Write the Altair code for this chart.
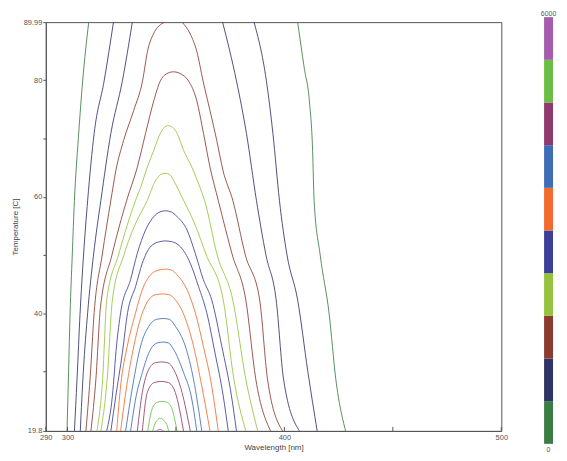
import altair as alt
import pandas as pd

FONT = "Liberation Sans"

# colour bar bands (intensity) and their colours, bottom to top
BAND_LO = [0, 600, 1200, 1800, 2400, 3000, 3600, 4200, 4800, 5400]
BAND_HI = [600, 1200, 1800, 2400, 3000, 3600, 4200, 4800, 5400, 6000]
BAND_COLORS = ["#3a7d44", "#2e3466", "#8b3a2f", "#95c23d", "#3b3f99",
               "#f26b2e", "#3e6db5", "#8e3a6c", "#6cbd45", "#a65cae"]
CBAR_LABELS = [0, 6000]

X_TICKS = [290, 300, 350, 400, 450, 500]
Y_TICKS = [19.8, 30, 40, 50, 60, 70, 80, 89.99]

# contour lines: (wavelength nm, temperature C)
c300_l = [(299.8, 19.8), (300.5, 30), (301.2, 40), (302.2, 50), (303.2, 59.4), (305.0, 70), (307.0, 79.9), (309.8, 89.99)]
c300_r = [(406.1, 89.99), (409.2, 82), (411.5, 76.5), (413.0, 68), (413.7, 59.4), (416.5, 50), (420.6, 40), (423.7, 28.7), (428.2, 19.8)]
c600_l = [(303.2, 19.8), (304.4, 28.7), (305.8, 40), (307.4, 50), (309.3, 59.4), (312.3, 70.9), (316.9, 79.9), (321.2, 89.99)]
c600_r = [(386.0, 89.99), (391.7, 79.9), (394.7, 70.9), (397.7, 59.4), (401.2, 50), (406.1, 42.3), (410.8, 30), (415.1, 19.8)]
c900_l = [(305.9, 19.8), (307.3, 30), (309.3, 40.1), (312.0, 50), (315.4, 59.4), (320.0, 70.9), (325.3, 79.9), (329.9, 89.99)]
c900_r = [(371.5, 89.99), (377.9, 79.9), (382.5, 70.9), (387.1, 59.4), (391.5, 50), (396.2, 42.3), (399.6, 28.7), (406.9, 19.8)]
c1200_l = [(308.5, 19.8), (310.4, 28.7), (312.3, 40.1), (316.0, 50), (320.0, 59.4), (322.3, 64.5), (325.9, 69.7),
           (330.5, 74.8), (334.6, 79.9), (336.9, 85.0), (339.6, 87.95), (344.8, 89.99)]
c1200_r = [(352.8, 89.99), (356.6, 87.95), (359.6, 85.0), (362.5, 79.9), (365.7, 74.8), (368.8, 69.7), (371.7, 64.5),
           (376.2, 59.4), (382.0, 50), (388.6, 42.3), (392.2, 28.7), (399.1, 19.8)]
c1500 = [(310.8, 19.8), (313.1, 28.7), (315.2, 41.0), (320.5, 50), (327.3, 59.4), (332.2, 65.1), (336.0, 70.9),
         (339.8, 76.5), (342.8, 79.9), (345.6, 81.1), (348.8, 81.46), (352.3, 81.1), (355.8, 79.9), (359.6, 76.5),
         (362.7, 70.9), (365.7, 65.1), (369.5, 59.4), (376.0, 50), (382.2, 42.3), (386.8, 28.7), (393.6, 19.8)]
c1800 = [(313.6, 19.8), (316.2, 28.7), (318.1, 42.3), (323.5, 50), (331.4, 59.4), (333.7, 61.6), (336.8, 65.1),
         (339.8, 68.0), (342.8, 70.9), (344.6, 71.9), (346.5, 72.23), (348.5, 71.9), (350.5, 70.9), (353.5, 68.0),
         (357.3, 65.1), (361.1, 61.6), (363.2, 59.4), (369.0, 50), (376.2, 42.3), (382.2, 28.7), (387.7, 19.8)]
c2100 = [(315.4, 19.8), (318.3, 28.7), (320.7, 42.3), (326.0, 50), (331.5, 55.5), (336.8, 59.4), (340.6, 62.8),
         (342.9, 63.8), (345.1, 64.04), (347.2, 63.8), (348.9, 62.8), (353.5, 59.4), (358.5, 55.5), (364.0, 50),
         (371.8, 42.3), (376.7, 28.7), (382.2, 19.8)]
c2400 = [(318.1, 19.8), (320.7, 25.8), (322.6, 34.4), (324.5, 40.1), (329.1, 45.8), (332.2, 50.3), (336.0, 54.3),
         (339.8, 56.6), (342.6, 57.4), (345.1, 57.6), (347.8, 57.4), (350.5, 56.6), (355.1, 54.3), (358.9, 50.3),
         (362.6, 45.8), (366.5, 42.3), (371.1, 34.4), (375.6, 25.8), (377.9, 19.8)]
c2700 = [(320.0, 19.8), (322.3, 25.8), (325.3, 33.2), (327.7, 40.1), (331.4, 44.6), (334.5, 48.6), (338.3, 51.45),
         (342.6, 52.3), (345.1, 52.42), (347.9, 52.3), (352.0, 51.45), (356.6, 48.6), (360.4, 44.6), (364.2, 40.1),
         (368.0, 33.2), (371.8, 25.8), (374.1, 19.8)]
c3000 = [(322.7, 19.8), (324.5, 27.5), (327.6, 34.4), (331.4, 40.1), (334.5, 44.05), (338.3, 46.6), (342.3, 47.45),
         (345.1, 47.59), (347.8, 47.45), (350.5, 46.6), (355.1, 44.05), (358.9, 40.1), (362.6, 34.4), (366.5, 27.5),
         (369.5, 19.8)]
c3300 = [(324.5, 19.8), (327.3, 27.5), (330.6, 34.37), (333.7, 39.13), (337.5, 42.34), (340.8, 43.2), (343.7, 43.32),
         (346.7, 43.2), (349.7, 42.34), (354.3, 39.13), (358.1, 34.37), (361.9, 27.5), (365.7, 19.8)]
c3600 = [(326.8, 19.8), (330.6, 28.68), (333.7, 34.37), (337.5, 37.78), (341.0, 38.95), (344.2, 39.10), (347.0, 38.95),
         (349.7, 37.78), (354.3, 34.37), (358.1, 28.68), (361.9, 19.8)]
c3900 = [(329.1, 19.8), (331.4, 25.27), (334.5, 29.83), (338.3, 33.81), (341.3, 34.9), (344.2, 35.05), (346.6, 34.9),
         (348.9, 33.81), (353.5, 29.83), (357.3, 25.27), (359.6, 19.8)]
c4200 = [(332.2, 19.8), (334.5, 26.41), (337.5, 30.39), (340.5, 31.5), (343.3, 31.64), (346.2, 31.5), (348.9, 30.39),
         (352.8, 26.41), (356.6, 19.8)]
c4500 = [(334.5, 19.8), (336.8, 26.41), (340.0, 28.1), (343.3, 28.29), (346.5, 28.1), (349.7, 26.41), (353.5, 19.8)]
c4800 = [(337.0, 19.8), (339.0, 23.56), (341.3, 24.7), (343.7, 24.87), (346.0, 24.7), (348.2, 23.56), (350.5, 19.8)]
c5100 = [(339.3, 19.8), (340.2, 20.9), (341.3, 21.6), (342.8, 21.97), (344.4, 21.6), (345.8, 20.9), (346.6, 19.8)]
c5400 = [(341.0, 19.8), (342.6, 20.06), (344.2, 19.8)]

SEGMENTS = [
    (300, c300_l), (300, c300_r), (600, c600_l), (600, c600_r), (900, c900_l), (900, c900_r),
    (1200, c1200_l), (1200, c1200_r), (1500, c1500), (1800, c1800), (2100, c2100), (2400, c2400),
    (2700, c2700), (3000, c3000), (3300, c3300), (3600, c3600), (3900, c3900), (4200, c4200),
    (4500, c4500), (4800, c4800), (5100, c5100), (5400, c5400),
]

rows = []
for k, (lvl, pts) in enumerate(SEGMENTS):
    col = BAND_COLORS[min(lvl // 600, len(BAND_COLORS) - 1)]
    for i, (w, t) in enumerate(pts):
        rows.append({"seg": k, "level": lvl, "idx": i, "wl": w, "temp": t, "col": col})
df = pd.DataFrame(rows)

xscale = alt.Scale(domain=[290, 500], nice=False, zero=False)
yscale = alt.Scale(domain=[19.8, 89.99], nice=False, zero=False)

xaxis = alt.Axis(values=X_TICKS, title="Wavelength [nm]", ticks=False, labelPadding=3, labelFlush=False,
                 labelExpr="datum.value == 350 || datum.value == 450 ? '' : toString(datum.value)",
                 titlePadding=2, grid=False, labelFont=FONT, titleFont=FONT, labelFontSize=7.5,
                 titleFontSize=8, titleFontWeight="normal", labelColor="#555", titleColor="#444",
                 domainColor="#555")
yaxis = alt.Axis(values=Y_TICKS, title="Temperature [C]", tickSize=3, labelPadding=1, labelFlush=False,
                 labelExpr="indexof([30, 50, 70], datum.value) >= 0 ? '' : toString(datum.value)",
                 titlePadding=4, grid=False, labelFont=FONT, titleFont=FONT, labelFontSize=7.5,
                 titleFontSize=8, titleFontWeight="normal", labelColor="#555", titleColor="#444",
                 domainColor="#555", tickColor="#555")

contours = alt.Chart(df).mark_line(strokeWidth=1, interpolate="monotone", clip=True, opacity=0.85).encode(
    x=alt.X("wl:Q", scale=xscale, axis=xaxis),
    y=alt.Y("temp:Q", scale=yscale, axis=yaxis),
    color=alt.Color("col:N", scale=None),
    detail="seg:N",
    order="idx:Q",
)

xticks = alt.Chart(pd.DataFrame({"wl": X_TICKS})).mark_rule(color="#555", strokeWidth=1).encode(
    x=alt.X("wl:Q", scale=xscale, axis=xaxis),
    y=alt.value(411),
    y2=alt.value(407),
)

main = alt.layer(contours, xticks).properties(
    width=458, height=411,
    view=alt.ViewBackground(stroke="#555", strokeWidth=1),
)

cb_scale = alt.Scale(domain=[0, 5930], nice=False, zero=False)
cb_df = pd.DataFrame({"lo": BAND_LO, "hi": BAND_HI, "col": BAND_COLORS})
bar = alt.Chart(cb_df).mark_rect().encode(
    y=alt.Y("lo:Q", scale=cb_scale, axis=None),
    y2="hi:Q",
    x=alt.value(0),
    x2=alt.value(9),
    color=alt.Color("col:N", scale=None),
)
lab_df = pd.DataFrame({"v": CBAR_LABELS, "t": [str(v) for v in CBAR_LABELS]})
top_lab = alt.Chart(lab_df).transform_filter("datum.v == 6000").mark_text(
    baseline="bottom", dy=0, fontSize=7, color="#555", font=FONT).encode(
    y=alt.Y("v:Q", scale=cb_scale, axis=None), x=alt.value(4.5), text="t:N")
bot_lab = alt.Chart(lab_df).transform_filter("datum.v == 0").mark_text(
    baseline="top", dy=2, fontSize=7, color="#555", font=FONT).encode(
    y=alt.Y("v:Q", scale=cb_scale, axis=None), x=alt.value(4.5), text="t:N")

cbar = alt.layer(bar, top_lab, bot_lab).properties(
    width=9, height=424,
    view=alt.ViewBackground(stroke="transparent"),
)

chart = alt.hconcat(main, cbar, spacing=43, bounds="flush").resolve_scale(y="independent").properties(
    padding={"left": 2, "top": 0, "right": 2, "bottom": 0},
    background="white",
)

chart.save("out.html", embed_options={"renderer": "svg", "actions": False})
